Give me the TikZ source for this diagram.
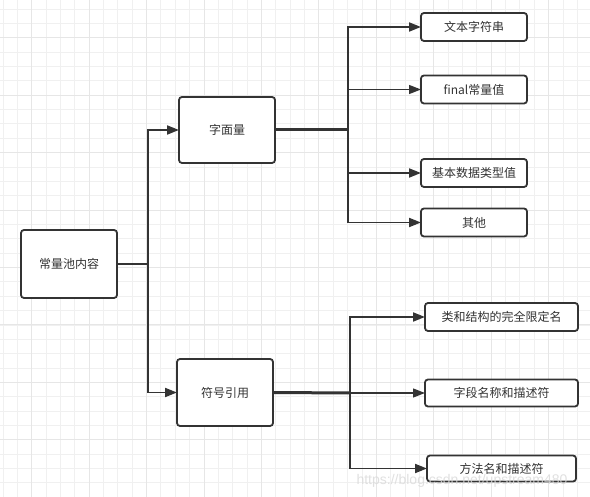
\documentclass[tikz,border=0pt]{standalone}
\usepackage{fontspec}
\newfontfamily\cjk{Noto Sans CJK SC}
\newfontfamily\wm{Liberation Sans}
\usetikzlibrary{arrows.meta,calc}
\definecolor{ln}{HTML}{333333}
\definecolor{gmin}{HTML}{F0F0F0}
\definecolor{gmaj}{HTML}{E6E6E6}
\begin{document}
\begin{tikzpicture}[x=1pt,y=-1pt,
  box/.style={draw=ln,line width=1.8pt,rounded corners=3pt,fill=white,inner sep=0pt,outer sep=0pt,
    font=\cjk\fontsize{12}{14}\selectfont,text=ln,align=center},
  arr/.style={draw=ln,line width=1.8pt,-{Triangle[length=12pt,width=9pt]}},
  trunk/.style={draw=ln,line width=3pt}]
\useasboundingbox (0,0) rectangle (590,497);
\fill[white] (0,0) rectangle (590,497);
% grid
\foreach \i in {0,...,41} {
  \pgfmathsetmacro\xx{3.0+14.36*\i}
  \draw[gmin,line width=1pt] (\xx,0) -- (\xx,497);
}
\foreach \i in {0,...,34} {
  \pgfmathsetmacro\yy{9.1+14.36*\i}
  \draw[gmin,line width=1pt] (0,\yy) -- (590,\yy);
}
\foreach \i in {0,...,10} {
  \pgfmathsetmacro\xx{31.7+57.44*\i}
  \draw[gmaj,line width=1pt] (\xx,0) -- (\xx,497);
}
\foreach \i in {0,...,8} {
  \pgfmathsetmacro\yy{37.8+57.44*\i}
  \draw[gmaj,line width=1pt] (0,\yy) -- (590,\yy);
}
% nodes
\node[box,minimum width=96pt,minimum height=68pt] (root) at (69,264) {常量池内容};
\node[box,minimum width=96pt,minimum height=66pt] (lit) at (227,130) {字面量};
\node[box,minimum width=96pt,minimum height=67pt] (sym) at (225,392.5) {符号引用};
\node[box,minimum width=106pt,minimum height=28pt] (b1) at (474,27) {文本字符串};
\node[box,minimum width=106pt,minimum height=28pt] (b2) at (474,89.5) {final常量值};
\node[box,minimum width=106pt,minimum height=28pt] (b3) at (474,173) {基本数据类型值};
\node[box,minimum width=106pt,minimum height=28pt] (b4) at (474,222.5) {其他};
\node[box,minimum width=153pt,minimum height=28pt] (c1) at (501.5,317) {类和结构的完全限定名};
\node[box,minimum width=153pt,minimum height=27pt] (c2) at (501.5,393) {字段名称和描述符};
\node[box,minimum width=149pt,minimum height=26pt] (c3) at (501.5,468.5) {方法名和描述符};
% junctions
\coordinate (j1) at (148,264);
\coordinate (j2) at (348,130);
\coordinate (j3) at (350,393);
% connectors
\draw[draw=ln,line width=1.8pt] (root.east) -- (j1);
\draw[arr] (j1) |- (lit.west);
\draw[arr] (j1) |- (sym.west);
\draw[trunk] (lit.east) -- (j2);
\draw[arr] (j2) |- (b1.west);
\draw[arr,line width=1.3pt] (j2) |- (b2.west);
\draw[arr] (j2) |- (b3.west);
\draw[arr] (j2) |- (b4.west);
\draw[trunk] (sym.east) -- (j3);
\draw[arr] (j3) |- (c1.west);
\draw[arr,line width=1.3pt] (j3) -- (c2.west);
\draw[arr] (j3) |- (c3.west);
% watermark
\node[font=\wm\fontsize{14}{14}\selectfont,text=gray!30,opacity=0.8,inner sep=0pt] (wmk) at (462,481) {https://blog.csdn.net/upstream480};
\end{tikzpicture}
\end{document}
